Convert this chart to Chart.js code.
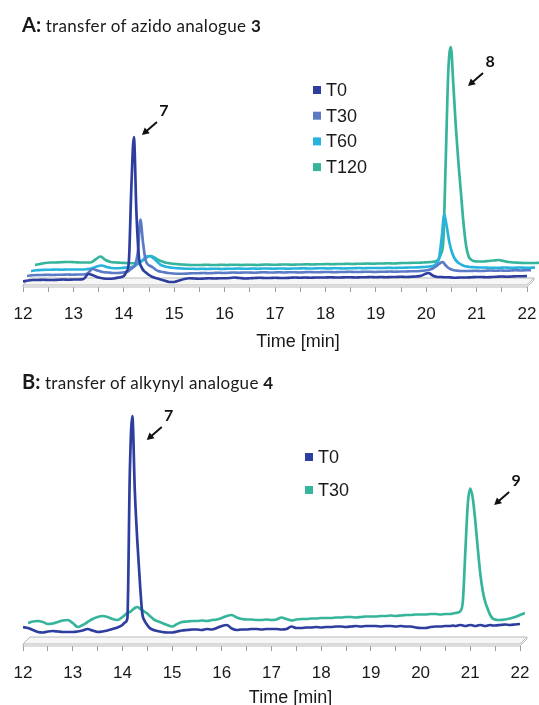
<!DOCTYPE html>
<html>
<head>
<meta charset="utf-8">
<script src="https://cdn.jsdelivr.net/npm/chart.js@4.4.0/dist/chart.umd.min.js"></script>
<style>
  html, body { margin: 0; padding: 0; background: #fff; overflow: hidden; }
  body { width: 539px; height: 705px; position: relative; }
  .panel { position: absolute; left: 0; width: 539px; }
  .panel canvas { display: block; }
  .heading { position: absolute; left: 22px; font-family: Lato, "Noto Sans", sans-serif; font-size: 17px; letter-spacing: 0.3px; line-height: 22px; color: #1a1a1a; white-space: nowrap; z-index: 2; }
  .heading b { font-weight: 700; }
  .heading .tag { font-size: 20px; letter-spacing: 0; }
</style>
</head>
<body>
<div class="panel" style="top:0;height:352px"><canvas id="chartA" width="539" height="352"></canvas></div>
<div class="panel" style="top:352px;height:360px"><canvas id="chartB" width="539" height="360"></canvas></div>
<div class="heading" style="top:13px"><b class="tag">A:</b> transfer of azido analogue <b>3</b></div>
<div class="heading" style="top:370px"><b class="tag">B:</b> transfer of alkynyl analogue <b>4</b></div>
<script>
// ---- panel A: retention times [min] and detector signal (a.u.)
const timeA = [
  12.0, 12.1, 12.2, 12.3, 12.4, 12.5, 12.6, 12.7, 12.8, 12.9,
  13.0, 13.1, 13.2, 13.3, 13.4, 13.5, 13.6, 13.7, 13.8, 13.9,
  14.0, 14.05, 14.1, 14.15, 14.2, 14.25, 14.3, 14.35, 14.4, 14.45, 14.5, 14.55, 14.6,
  14.7, 14.8, 14.9, 15.0, 15.1, 15.2, 15.3, 15.4, 15.5, 15.6, 15.7, 15.8, 15.9,
  16.0, 16.1, 16.2, 16.3, 16.4, 16.5, 16.6, 16.7, 16.8, 16.9,
  17.0, 17.1, 17.2, 17.3, 17.4, 17.5, 17.6, 17.7, 17.8, 17.9,
  18.0, 18.1, 18.2, 18.3, 18.4, 18.5, 18.6, 18.7, 18.8, 18.9,
  19.0, 19.1, 19.2, 19.3, 19.4, 19.5, 19.6, 19.7, 19.8, 19.9,
  20.0, 20.05, 20.1, 20.15, 20.2, 20.25, 20.3, 20.35, 20.4, 20.45, 20.5, 20.55, 20.6, 20.65, 20.7,
  20.8, 20.9, 21.0, 21.1, 21.2, 21.3, 21.4, 21.5, 21.6, 21.7, 21.8, 21.9, 22.0
];
const a_T0 = [
  2.2, 2.6, 2.8, 2.8, 2.9, 2.8, 2.8, 2.9, 3.0, 2.9,
  3.0, 3.0, 3.2, 5.2, 4.6, 3.8, 3.4, 3.3, 3.4, 3.8,
  4.4, 6.0, 10, 40, 60, 30, 12, 8.0, 6.4, 5.6, 4.8, 4.2, 3.8,
  3.2, 2.6, 2.0, 2.0, 2.6, 3.2, 3.5, 3.4, 3.3, 3.4, 3.5, 3.4, 3.5,
  3.5, 3.6, 3.8, 3.6, 3.4, 3.5, 3.6, 3.7, 3.6, 3.6,
  3.7, 3.6, 3.6, 3.7, 3.8, 3.7, 3.8, 3.7, 3.8, 3.8,
  3.8, 3.9, 3.8, 3.8, 3.9, 3.9, 3.8, 3.9, 3.9, 4.0,
  3.9, 4.0, 3.9, 4.0, 4.0, 4.1, 4.0, 4.1, 4.2, 4.5,
  5.4, 5.6, 5.0, 4.4, 4.1, 4.0, 4.0, 3.9, 3.9, 3.9, 3.8, 3.7, 3.7, 3.8, 3.8,
  3.8, 3.9, 4.0, 4.0, 3.9, 4.0, 4.1, 4.2, 4.1, 4.2, 4.3, 4.3, 4.4
];
const a_T30 = [
  2.4, 2.7, 2.8, 2.8, 2.9, 2.8, 2.9, 2.9, 3.0, 2.9,
  3.0, 3.0, 3.4, 5.2, 4.6, 4.0, 3.8, 3.6, 3.6, 3.8,
  4.2, 5.0, 5.8, 7.0, 12, 25, 16, 9.0, 7.0, 6.4, 5.8, 5.0, 4.4,
  4.0, 3.6, 3.4, 3.3, 3.3, 3.4, 3.5, 3.5, 3.6, 3.5, 3.6, 3.7, 3.6,
  3.7, 3.8, 3.7, 3.8, 3.8, 3.7, 3.8, 3.9, 3.8, 3.8,
  3.9, 3.8, 3.9, 3.9, 3.8, 3.9, 4.0, 3.9, 3.9, 4.0,
  4.0, 3.9, 4.0, 4.0, 4.1, 4.0, 4.0, 4.1, 4.1, 4.0,
  4.1, 4.1, 4.2, 4.1, 4.2, 4.2, 4.3, 4.3, 4.4, 4.6,
  5.0, 5.4, 6.0, 6.8, 7.6, 8.0, 6.8, 5.8, 5.2, 4.8, 4.6, 4.5, 4.4, 4.4, 4.4,
  4.4, 4.5, 4.4, 4.5, 4.6, 4.5, 4.6, 4.5, 4.6, 4.7, 4.6, 4.7, 4.7
];
const a_T60 = [
  2.4, 2.7, 2.8, 2.9, 2.9, 3.0, 2.9, 3.0, 3.0, 3.0,
  3.0, 3.1, 3.4, 4.2, 4.6, 4.0, 3.6, 3.5, 3.6, 3.8,
  4.0, 4.4, 5.0, 5.6, 6.4, 7.4, 8.2, 8.4, 8.0, 7.2, 6.2, 5.2, 4.6,
  4.0, 3.7, 3.5, 3.4, 3.3, 3.3, 3.2, 3.3, 3.2, 3.3, 3.3, 3.2, 3.3,
  3.3, 3.4, 3.3, 3.3, 3.4, 3.3, 3.4, 3.4, 3.3, 3.4,
  3.4, 3.3, 3.4, 3.4, 3.5, 3.4, 3.4, 3.5, 3.5, 3.4,
  3.5, 3.5, 3.4, 3.5, 3.5, 3.6, 3.5, 3.6, 3.6, 3.6,
  3.6, 3.7, 3.6, 3.7, 3.7, 3.8, 3.8, 3.9, 4.0, 4.2,
  4.6, 5.6, 8.0, 16, 25, 20, 14, 10, 7.6, 6.2, 5.4, 4.8, 4.4, 4.2, 4.0,
  3.9, 3.8, 3.8, 3.7, 3.7, 3.7, 3.8, 3.7, 3.7, 3.8, 3.7, 3.7, 3.8
];
const a_T120 = [
  2.8, 3.2, 3.6, 3.8, 3.8, 3.9, 4.0, 4.0, 3.9, 3.8,
  3.8, 3.8, 5.0, 6.2, 4.8, 4.0, 3.8, 3.7, 3.6, 3.5,
  3.6, 3.8, 4.2, 4.8, 5.6, 6.2, 6.4, 6.0, 5.4, 4.8, 4.4, 4.0, 3.7,
  3.4, 3.2, 3.0, 2.9, 2.8, 2.8, 2.8, 2.9, 2.8, 2.8, 2.9, 2.8, 2.9,
  2.9, 2.8, 2.9, 2.9, 2.8, 2.9, 3.0, 2.9, 2.9, 3.0,
  3.0, 2.9, 3.0, 3.0, 3.1, 3.0, 3.1, 3.1, 3.2, 3.1,
  3.2, 3.2, 3.3, 3.2, 3.3, 3.3, 3.4, 3.3, 3.4, 3.4,
  3.5, 3.4, 3.5, 3.6, 3.6, 3.7, 3.7, 3.8, 3.9, 4.1,
  4.8, 7.0, 12, 45, 80, 90, 75, 58, 44, 32, 20, 11, 6.4, 5.0, 4.4,
  4.2, 4.2, 4.4, 4.6, 4.8, 4.4, 4.0, 3.8, 3.7, 3.6, 3.6, 3.6, 3.7
];
const peakLabelsA = [
  { label: "7", t: 14.36, v: 60.8 },
  { label: "8", t: 20.83, v: 80.4 }
];

// ---- panel B
const timeB = [
  12.0, 12.1, 12.2, 12.3, 12.4, 12.5, 12.6, 12.7, 12.8, 12.9,
  13.0, 13.1, 13.2, 13.3, 13.4, 13.5, 13.6, 13.7, 13.8, 13.9,
  14.0, 14.05, 14.1, 14.15, 14.2, 14.25, 14.3, 14.35, 14.4, 14.45, 14.5, 14.55, 14.6,
  14.7, 14.8, 14.9,
  15.0, 15.1, 15.2, 15.3, 15.4, 15.5, 15.6, 15.7, 15.8, 15.9,
  16.0, 16.1, 16.2, 16.3, 16.4, 16.5, 16.6, 16.7, 16.8, 16.9,
  17.0, 17.1, 17.2, 17.3, 17.4, 17.5, 17.6, 17.7, 17.8, 17.9,
  18.0, 18.1, 18.2, 18.3, 18.4, 18.5, 18.6, 18.7, 18.8, 18.9,
  19.0, 19.1, 19.2, 19.3, 19.4, 19.5, 19.6, 19.7, 19.8, 19.9,
  20.0, 20.1, 20.2, 20.3, 20.4, 20.5,
  20.55, 20.6, 20.65, 20.7, 20.75, 20.8, 20.85, 20.9, 20.95, 21.0,
  21.05, 21.1, 21.15, 21.2, 21.25, 21.3, 21.35, 21.4, 21.45, 21.5,
  21.6, 21.7, 21.8, 21.9, 22.0
];
const b_T0 = [
  7.6, 7.2, 6.4, 5.6, 5.4, 5.8, 6.0, 5.8, 5.6, 5.6,
  5.6, 5.8, 6.2, 6.8, 6.2, 5.6, 5.8, 6.2, 6.8, 7.4,
  8.4, 9.4, 11, 70, 92, 62, 42, 26, 13, 10, 8.4, 7.2, 6.6,
  6.0, 5.6, 5.4,
  5.4, 5.8, 6.2, 6.4, 6.6, 6.6, 6.4, 6.8, 6.6, 7.2,
  8.0, 8.4, 7.0, 6.4, 6.6, 6.6, 6.8, 6.8, 6.6, 6.8,
  6.8, 6.8, 6.6, 6.8, 7.8, 7.2, 7.2, 7.4, 7.4, 7.6,
  7.4, 7.6, 7.6, 7.8, 7.8, 7.6, 7.8, 8.0, 7.8, 8.0,
  8.0, 8.0, 7.8, 8.0, 8.0, 7.8, 8.0, 7.8, 7.8, 7.4,
  7.2, 7.2, 7.6, 7.8, 7.8, 8.0,
  8.0, 8.0, 8.2, 8.0, 8.2, 8.4, 8.2, 8.0, 8.2, 8.4,
  8.2, 8.0, 8.2, 8.4, 8.2, 8.0, 8.2, 8.4, 8.2, 8.2,
  8.4, 8.6, 8.4, 8.6, 8.8
];
const b_T30 = [
  7.2, 7.8, 8.0, 7.6, 6.8, 7.0, 7.6, 8.2, 8.4, 7.2,
  5.6, 6.4, 7.6, 8.8, 9.6, 10, 9.6, 8.8, 8.4, 9.6,
  11.2, 11.6, 12.4, 13.2, 13.6, 13.0, 12.4, 11.6, 11.0, 10.0, 9.2, 8.4, 8.0,
  7.2, 6.4, 5.8,
  6.8, 7.6, 7.8, 8.0, 8.0, 8.2, 8.0, 8.4, 8.6, 9.2,
  10, 10.4, 9.4, 8.8, 8.6, 8.6, 8.4, 8.4, 8.6, 8.4,
  8.6, 9.4, 8.8, 8.2, 8.6, 8.8, 8.8, 9.0, 9.0, 9.2,
  9.2, 9.2, 9.4, 9.4, 9.6, 9.6, 9.4, 9.6, 9.8, 9.8,
  9.8, 10.0, 10.0, 10.2, 10.0, 10.2, 10.4, 10.4, 10.6, 10.6,
  10.6, 10.8, 10.8, 10.6, 10.8, 10.8,
  11.0, 11.2, 11.4, 12.0, 16, 36, 55, 61, 57, 48,
  37, 27, 20, 15.6, 12.8, 10.4, 9.0, 8.6, 8.4, 8.4,
  8.6, 9.0, 9.6, 10.4, 11.2
];
const peakLabelsB = [
  { label: "7", t: 14.49, v: 82.4 },
  { label: "9", t: 21.48, v: 56.4 }
];

const DARK_BLUE = "#2d3e9e", MID_BLUE = "#5b7bc6", CYAN = "#27b4dc", TEAL = "#36b59c";
const axisFont = "'Liberation Sans', Arial, sans-serif";

//* shifts each trace back/up a bit, like the 3-D depth of the original plot
const depthPlugin = {
	id: "depth",
	beforeDatasetDraw(chart, args, opts) {
		const d = chart.data.datasets[args.index].depth || 0;
		chart.ctx.save();
		chart.ctx.translate(d * opts.dx, d * opts.dy);
	},
	afterDatasetDraw(chart) {
		chart.ctx.restore();
	},
};

//* grey slab under the traces
const floorPlugin = {
	id: "floor",
	beforeDatasetsDraw(chart, args, opts) {
		const { ctx, chartArea: a } = chart;
		const top = a.bottom - 2;
		ctx.save();
		ctx.lineWidth = 1;
		ctx.strokeStyle = "#b9b9b9";
		ctx.fillStyle = "#f6f6f6";
		ctx.beginPath();
		ctx.moveTo(a.left, top);
		ctx.lineTo(a.right, top);
		ctx.lineTo(a.right + opts.dx, top + opts.dy);
		ctx.lineTo(a.left + opts.dx, top + opts.dy);
		ctx.closePath();
		ctx.fill();
		ctx.stroke();
		ctx.beginPath();
		ctx.moveTo(a.left, top);
		ctx.lineTo(a.left, a.bottom);
		ctx.lineTo(a.right, a.bottom);
		ctx.lineTo(a.right + opts.dx, a.bottom + opts.dy);
		ctx.lineTo(a.right + opts.dx, top + opts.dy);
		ctx.stroke();
		ctx.restore();
	},
};

//* arrows with compound numbers
const peakArrowPlugin = {
	id: "peakArrows",
	afterDatasetsDraw(chart, args, opts) {
		const { ctx, scales } = chart;
		ctx.save();
		(opts.items || []).forEach((p) => {
			const hx = scales.x.getPixelForValue(p.t);
			const hy = scales.y.getPixelForValue(p.v);
			const tx = hx + 15, ty = hy - 13;
			const ang = Math.atan2(hy - ty, hx - tx);
			ctx.strokeStyle = "#111";
			ctx.fillStyle = "#111";
			ctx.lineWidth = 2;
			ctx.beginPath();
			ctx.moveTo(tx, ty);
			ctx.lineTo(hx - 5 * Math.cos(ang), hy - 5 * Math.sin(ang));
			ctx.stroke();
			ctx.beginPath();
			ctx.moveTo(hx, hy);
			ctx.lineTo(hx - 8 * Math.cos(ang - 0.5), hy - 8 * Math.sin(ang - 0.5));
			ctx.lineTo(hx - 8 * Math.cos(ang + 0.5), hy - 8 * Math.sin(ang + 0.5));
			ctx.closePath();
			ctx.fill();
			ctx.font = "bold 16px Lato, sans-serif";
			ctx.textAlign = "center";
			ctx.textBaseline = "middle";
			ctx.fillText(p.label, hx + 22, hy - 24);
		});
		ctx.restore();
	},
};

//* small square legend placed inside the plot
const boxLegendPlugin = {
	id: "boxLegend",
	afterDatasetsDraw(chart, args, opts) {
		const ctx = chart.ctx;
		ctx.save();
		ctx.font = "18px " + axisFont;
		ctx.textBaseline = "middle";
		ctx.textAlign = "left";
		chart.data.datasets.forEach((ds, i) => {
			const y = opts.y + i * opts.gap;
			ctx.fillStyle = ds.borderColor;
			ctx.fillRect(opts.x, y - 4, 8, 8);
			ctx.fillStyle = "#1a1a1a";
			ctx.fillText(ds.label, opts.x + 13, y + 1);
		});
		ctx.restore();
	},
};

//* axis caption, sits a little right of the plot centre as in the original
const axisCaptionPlugin = {
	id: "axisCaption",
	afterDraw(chart, args, opts) {
		const { ctx, chartArea: a } = chart;
		ctx.save();
		ctx.font = "18px " + axisFont;
		ctx.fillStyle = "#1a1a1a";
		ctx.textAlign = "center";
		ctx.textBaseline = "middle";
		ctx.fillText(opts.text, (a.left + a.right) / 2 + opts.shift, a.bottom + opts.gap);
		ctx.restore();
	},
};

function trace(label, color, times, values, depth) {
	return {
		label: label,
		data: times.map((t, i) => ({ x: t, y: values[i] })),
		borderColor: color,
		borderWidth: 2.7,
		pointRadius: 0,
		fill: false,
		cubicInterpolationMode: "monotone",
		depth: depth,
	};
}

function makeChart(id, datasets, cfg) {
	return new Chart(document.getElementById(id), {
		type: "line",
		data: { datasets: datasets },
		plugins: [floorPlugin, depthPlugin, peakArrowPlugin, boxLegendPlugin, axisCaptionPlugin],
		options: {
			responsive: false,
			animation: false,
			events: [],
			layout: { padding: cfg.padding },
			scales: {
				x: {
					type: "linear",
					min: 12,
					max: 22,
					border: { display: false },
					grid: { drawOnChartArea: false, drawTicks: true, tickLength: 5, color: "#9c9c9c" },
					ticks: {
						stepSize: 0.5,
						autoSkip: false,
						maxRotation: 0,
						padding: 12,
						color: "#1a1a1a",
						font: { family: axisFont, size: 17 },
						callback: (v) => (Number.isInteger(v) ? String(v) : ""),
					},
					afterFit: (scale) => {
						scale.height = cfg.axisHeight;
						scale.paddingLeft = 0;
						scale.paddingRight = 0;
					},
				},
				y: { display: false, min: 0, max: 100 },
			},
			plugins: {
				legend: { display: false },
				tooltip: { enabled: false },
				depth: cfg.depth,
				floor: { dx: 7, dy: -7 },
				peakArrows: { items: cfg.peaks },
				boxLegend: cfg.legend,
				axisCaption: { text: "Time [min]", shift: cfg.captionShift, gap: cfg.captionGap },
			},
		},
	});
}

makeChart(
	"chartA",
	[
		trace("T0", DARK_BLUE, timeA, a_T0, 0),
		trace("T30", MID_BLUE, timeA, a_T30, 1),
		trace("T60", CYAN, timeA, a_T60, 2),
		trace("T120", TEAL, timeA, a_T120, 3),
	],
	{
		padding: { left: 23, right: 12, top: 37, bottom: 0 },
		axisHeight: 65,
		depth: { dx: 4, dy: -5 },
		peaks: peakLabelsA,
		legend: { x: 313, y: 90, gap: 25.7 },
		captionShift: 23,
		captionGap: 55,
	}
);

makeChart(
	"chartB",
	[trace("T0", DARK_BLUE, timeB, b_T0, 0), trace("T30", TEAL, timeB, b_T30, 1)],
	{
		padding: { left: 23, right: 19, top: 44, bottom: 0 },
		axisHeight: 66,
		depth: { dx: 5, dy: -5 },
		peaks: peakLabelsB,
		legend: { x: 305, y: 105, gap: 33 },
		captionShift: 19,
		captionGap: 52,
	}
);
</script>
</body>
</html>
